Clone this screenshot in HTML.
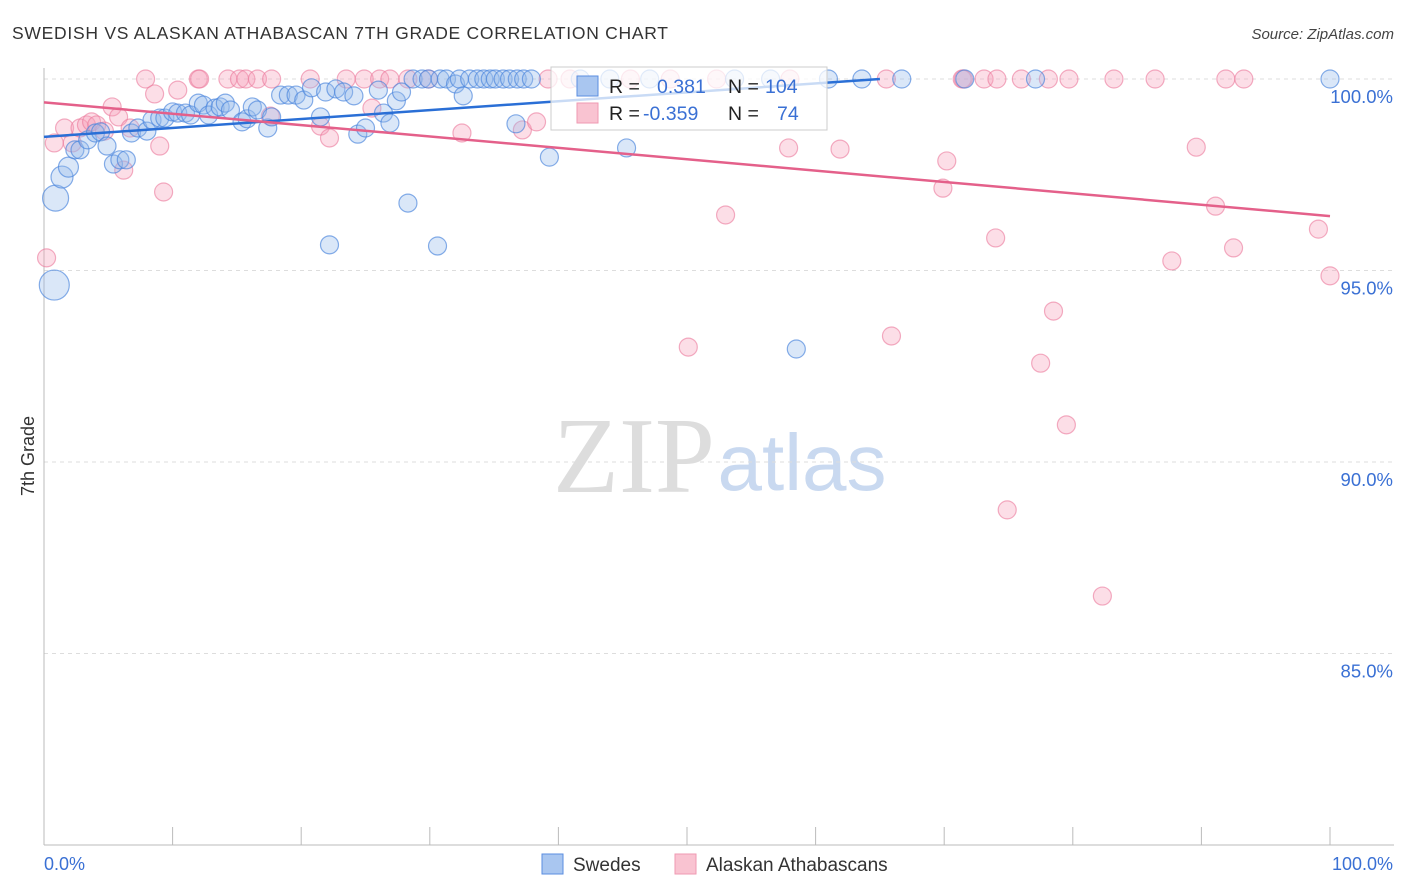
<!DOCTYPE html>
<html><head><meta charset="utf-8">
<style>
body{margin:0;background:#fff;font-family:"Liberation Sans",sans-serif}
svg{display:block}
</style></head>
<body>
<svg id="c" width="1406" height="892" xmlns="http://www.w3.org/2000/svg">
<text x="12" y="39" font-size="17.5" fill="#333" textLength="656" lengthAdjust="spacing">SWEDISH VS ALASKAN ATHABASCAN 7TH GRADE CORRELATION CHART</text>
<text x="1394" y="39" font-size="15" fill="#444" font-style="italic" text-anchor="end">Source: ZipAtlas.com</text>
<g>
<text x="634" y="492" font-family="Liberation Serif,serif" font-size="108" fill="#ddd" text-anchor="middle">ZIP</text>
<text x="802" y="490" font-size="80" fill="#c9d9f0" text-anchor="middle">atlas</text>
</g>
<g id="grid"></g>
<g id="axes"></g>
<g id="pts"></g>
<g id="trends"></g>
<text transform="translate(34,456) rotate(-90)" font-size="18" fill="#333" text-anchor="middle">7th Grade</text>
<g>
<rect x="551" y="67" width="276" height="63" fill="rgba(255,255,255,0.75)" stroke="#ccc"/>
<rect x="577" y="76" width="21" height="20" fill="#a9c6f0" stroke="#5a8de0"/>
<rect x="577" y="103" width="21" height="20" fill="#f9c3d1" stroke="#ef9ab2"/>
<g font-size="19.5">
<text x="609" y="93" fill="#222">R =</text><text x="657" y="93" fill="#3a70d4">0.381</text>
<text x="728" y="93" fill="#222">N =</text><text x="765" y="93" fill="#3a70d4">104</text>
<text x="609" y="120" fill="#222">R =</text><text x="643" y="120" fill="#3a70d4">-0.359</text>
<text x="728" y="120" fill="#222">N =</text><text x="777" y="120" fill="#3a70d4">74</text>
</g>
</g>
<g>
<rect x="542" y="854" width="21" height="20" fill="#a9c6f0" stroke="#5a8de0"/>
<text x="573" y="871" font-size="19" fill="#333">Swedes</text>
<rect x="675" y="854" width="21" height="20" fill="#f9c3d1" stroke="#ef9ab2"/>
<text x="706" y="871" font-size="19" fill="#333">Alaskan Athabascans</text>
</g>
</svg>
<script>
const yTicks=[100,95,90,85];
const yTickLabels=["100.0%","95.0%","90.0%","85.0%"];
const xTicks=[0,10,20,30,40,50,60,70,80,90,100];
const xTickLabels=["0.0%","100.0%"];
const blueX=[0.8,0.9,1.4,1.9,2.4,2.8,3.4,4.0,4.4,4.9,5.4,5.9,6.4,6.8,7.3,8.0,8.4,9.0,9.4,10.0,10.4,11.0,11.4,12.0,12.4,12.8,13.3,13.7,14.1,14.5,15.4,15.8,16.2,16.6,17.4,17.7,18.4,19.0,19.6,20.2,20.8,21.5,21.9,22.7,23.3,24.1,24.4,25.0,26.0,26.4,26.9,27.4,27.8,28.7,29.4,29.9,30.8,31.3,32.0,32.3,32.6,33.1,33.7,34.2,34.7,35.1,35.7,36.2,36.8,37.3,37.9,36.7,39.3,45.3,22.2,28.3,30.6,58.5,63.6,66.7,71.6,77.1,100,41.7,44.0,47.1,53.7,56.5,61.0];
const blueY=[94.62,96.89,97.44,97.70,98.15,98.15,98.41,98.59,98.62,98.25,97.78,97.89,97.89,98.59,98.72,98.64,98.93,98.98,98.98,99.14,99.11,99.11,99.06,99.37,99.32,99.06,99.24,99.27,99.37,99.19,98.88,98.96,99.27,99.19,98.72,99.01,99.58,99.58,99.58,99.45,99.77,99.01,99.66,99.74,99.66,99.56,98.56,98.72,99.71,99.11,98.85,99.43,99.66,100,100,100,100,100,99.87,100,99.56,100,100,100,100,100,100,100,100,100,100,98.83,97.96,98.20,95.67,96.76,95.64,92.95,100,100,100,100,100,100,100,100,100,100,100];
const blueR=[15,13,11,10,9,9,9,9,9,9,9,9,9,9,9,9,9,9,9,9,9,9,9,9,9,9,9,9,9,9,9,9,9,9,9,9,9,9,9,9,9,9,9,9,9,9,9,9,9,9,9,9,9,9,9,9,9,9,9,9,9,9,9,9,9,9,9,9,9,9,9,9,9,9,9,9,9,9,9,9,9,9,9,9,9,9,9,9,9];
const pinkX=[0.2,0.8,1.6,2.2,2.8,3.3,3.7,4.1,4.7,5.3,5.8,6.2,6.7,7.9,8.6,9.0,9.3,10.4,12.0,12.1,14.3,15.2,15.7,16.6,17.7,20.7,23.5,24.9,26.1,26.9,28.3,29.9,25.5,17.6,21.5,22.2,32.5,37.2,38.3,39.2,40.9,45.6,48.7,52.3,58.0,50.1,53.0,57.9,61.9,65.5,65.9,69.9,70.2,71.4,71.5,73.1,74.1,76.0,78.1,79.7,83.2,86.4,91.9,93.3,74.0,74.9,77.5,78.5,79.5,82.3,87.7,89.6,91.1,92.5,99.1,100];
const pinkY=[95.33,98.33,98.72,98.33,98.72,98.80,98.88,98.80,98.64,99.27,99.01,97.62,98.72,100,99.61,98.25,97.05,99.71,100,100,100,100,100,100,100,100,100,100,100,100,100,100,99.24,99.03,98.77,98.46,98.59,98.67,98.88,100,100,100,100,100,100,93.00,96.45,98.20,98.17,100,93.29,97.15,97.86,100,100,100,100,100,100,100,100,100,100,100,95.85,88.75,92.58,93.94,90.97,86.50,95.25,98.22,96.68,95.59,96.08,94.86];
const blueTrend=[[0,98.49],[65,100.0]];
const pinkTrend=[[0,99.39],[100,96.42]];
const NS="http://www.w3.org/2000/svg";
const X=v=>44+v*12.86, Y=v=>79+(100-v)*38.3;
function mk(t,a,p){const e=document.createElementNS(NS,t);for(const k in a)e.setAttribute(k,a[k]);p.appendChild(e);return e;}
const grid=document.getElementById('grid'),axes=document.getElementById('axes');
yTicks.forEach((t,i)=>{
 const l=mk('line',{x1:44,x2:1394,y1:Y(t),y2:Y(t),stroke:'#ddd','stroke-dasharray':'4,4'},grid);
 
 
 const tx=mk('text',{x:1393,y:Y(t)+24,'font-size':18.5,fill:'#3a70d4','text-anchor':'end'},axes);
 tx.textContent=yTickLabels[i];
 
 
});
const ax=mk('line',{x1:44,x2:44,y1:68,y2:845,stroke:'#bbb'},axes);


const bx=mk('line',{x1:44,x2:1394,y1:845,y2:845,stroke:'#bbb'},axes);


xTicks.forEach(t=>{
 const l=mk('line',{x1:X(t),x2:X(t),y1:827,y2:845,stroke:'#bbb'},axes);
 
 
});
const xl0=mk('text',{x:44,y:870,'font-size':18,fill:'#3a70d4'},axes);xl0.textContent=xTickLabels[0];


const xl1=mk('text',{x:1393,y:870,'font-size':18,fill:'#3a70d4','text-anchor':'end'},axes);xl1.textContent=xTickLabels[1];


const pts=document.getElementById('pts');
pinkX.forEach((x,i)=>{
 const c=mk('circle',{cx:X(x),cy:Y(pinkY[i]),r:9,fill:'rgba(245,160,185,0.35)',stroke:'rgba(235,120,155,0.6)','stroke-width':1.2},pts);
 
 
});
blueX.forEach((x,i)=>{
 const c=mk('circle',{cx:X(x),cy:Y(blueY[i]),r:blueR[i],fill:'rgba(150,185,235,0.35)',stroke:'rgba(70,130,220,0.65)','stroke-width':1.2},pts);
 
 
});
const tr=document.getElementById('trends');
const t1=mk('line',{x1:X(blueTrend[0][0]),y1:Y(blueTrend[0][1]),x2:X(blueTrend[1][0]),y2:Y(blueTrend[1][1]),stroke:'#2a6fd6','stroke-width':2.5},tr);


const t2=mk('line',{x1:X(pinkTrend[0][0]),y1:Y(pinkTrend[0][1]),x2:X(pinkTrend[1][0]),y2:Y(pinkTrend[1][1]),stroke:'#e4608a','stroke-width':2.5},tr);


</script>
</body></html>
